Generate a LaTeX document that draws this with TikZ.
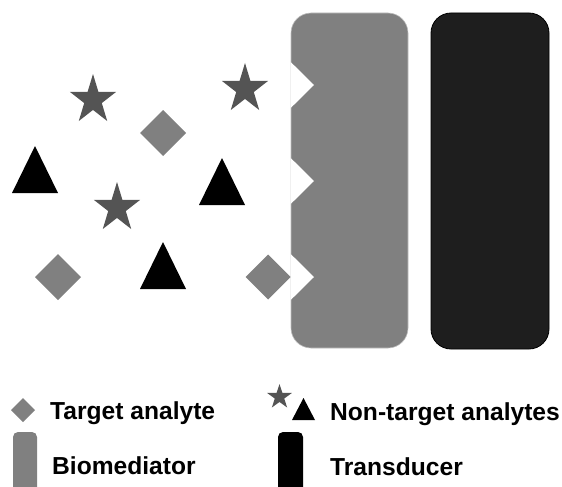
\documentclass[tikz,border=0pt]{standalone}
\usepackage{fontspec}
\setmainfont{Liberation Sans}
\definecolor{biogray}{HTML}{808080}
\definecolor{stargray}{HTML}{545454}
\definecolor{transblack}{HTML}{1E1E1E}
\begin{document}
\begin{tikzpicture}[x=1pt,y=-1pt,
  lbl/.style={anchor=base west,inner sep=0pt,font=\bfseries\fontsize{24.6}{25}\selectfont},
  pics/starshape/.style n args={2}{code={
    \fill[stargray] (-90:#1 and #2) -- (-54:#1/2.618 and #2/2.618) -- (-18:#1 and #2) -- (18:#1/2.618 and #2/2.618)
      -- (54:#1 and #2) -- (90:#1/2.618 and #2/2.618) -- (126:#1 and #2) -- (162:#1/2.618 and #2/2.618)
      -- (198:#1 and #2) -- (234:#1/2.618 and #2/2.618) -- cycle;}},
  pics/trishape/.style n args={2}{code={
    \fill[black] (-#1,#2) -- (0,-#2) -- (#1,#2) -- cycle;}},
  pics/diashape/.style={code={
    \fill[biogray] (-#1,0) -- (0,-#1) -- (#1,0) -- (0,#1) -- cycle;}}
]
\useasboundingbox (0,0) rectangle (562,487);
% biomediator
\fill[biogray,draw=black!25,line width=0.6pt,rounded corners=20pt] (291,13) rectangle (408,348);
\foreach \yy in {85,181,277}{
  \fill[white] (290.7,\yy-23) -- (314,\yy) -- (290.7,\yy+23) -- cycle;}
% transducer
\filldraw[fill=transblack,draw=black,line width=0.8pt,rounded corners=20pt] (431,13) rectangle (549,349);
% stars
\pic at (93,100) {starshape={24.2}{26}};
\pic at (245,89) {starshape={24.2}{26}};
\pic at (117,208) {starshape={24.2}{26}};
% diamonds
\pic at (163,133) {diashape=23};
\pic at (58,277) {diashape=23};
\pic at (268,277) {diashape=22.5};
% triangles
\pic at (35,169.5) {trishape={23}{23.5}};
\pic at (222,181.5) {trishape={23}{23.5}};
\pic at (163,265.5) {trishape={23}{23.5}};
% legend
\pic at (23,410) {diashape=12};
\node[lbl] (t1) at (50,419.5) {Target analyte};
\pic at (279.5,397) {starshape={13}{13}};
\pic at (303.5,409) {trishape={11.5}{11}};
\node[lbl] (t2) at (330,420) {Non-target analytes};
\fill[biogray,rounded corners=5pt] (13,495) -- (13,432) -- (37,432) -- (37,495) -- cycle;
\node[lbl] (t3) at (52,474.5) {Biomediator};
\fill[black,rounded corners=5pt] (278,495) -- (278,432) -- (303,432) -- (303,495) -- cycle;
\node[lbl] (t4) at (330,475) {Transducer};
\end{tikzpicture}
\end{document}
